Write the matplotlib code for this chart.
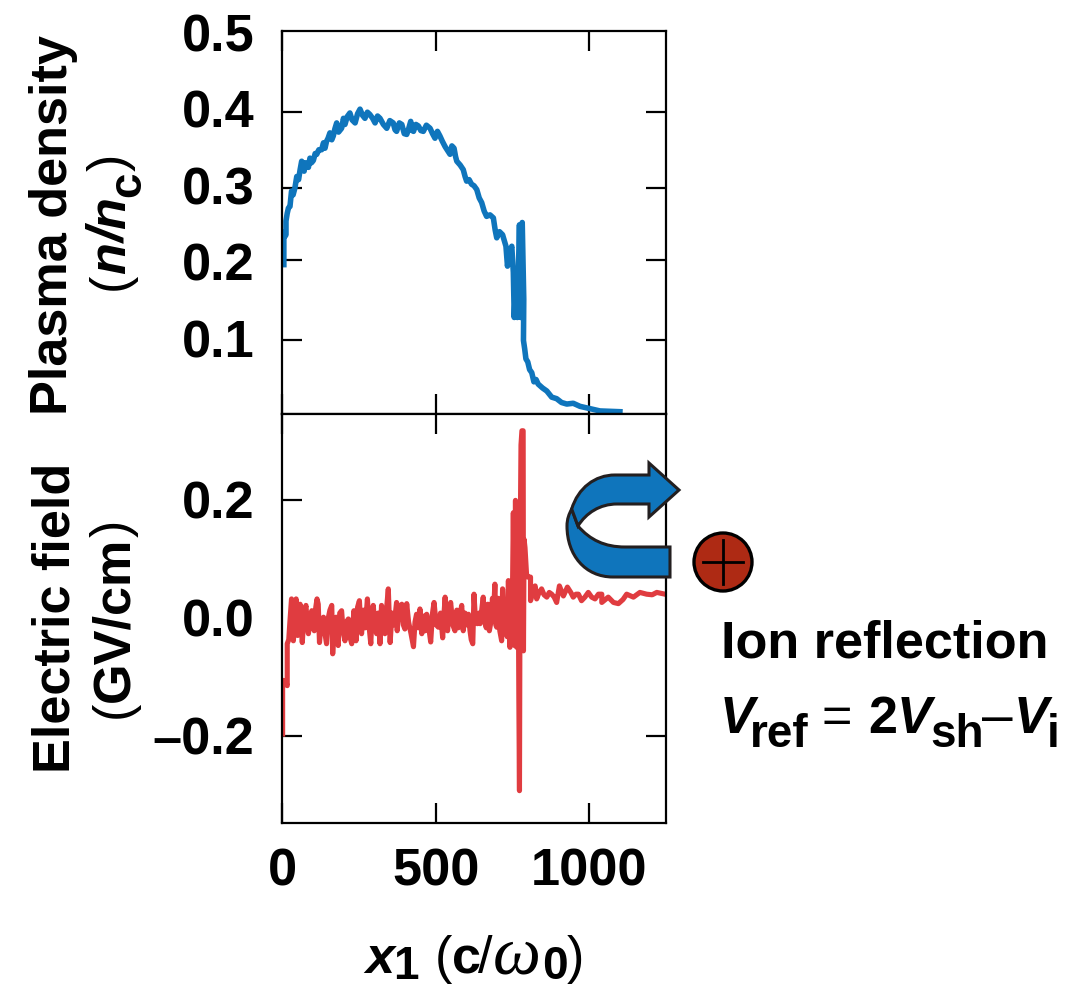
import matplotlib
matplotlib.use("Agg")
import matplotlib.pyplot as plt
from matplotlib.patches import Circle, PathPatch
from matplotlib.path import Path

plt.rcParams['font.family'] = ['Liberation Sans', 'DejaVu Sans']
plt.rcParams['font.weight'] = 'bold'

BLUE = '#0F75BC'
RED = '#E03C40'
DARK = '#231F20'
BROWN = '#AE2A14'
FS = 37.6
SUB = 33

# density profile
density_x = [6, 6, 10, 13, 13, 17, 21, 26, 31, 36,
             42, 48, 54, 59, 64, 68, 72, 76, 80, 86,
             91, 96, 102, 108, 113, 120, 129, 135, 140, 145,
             150, 156, 162, 167, 172, 178, 184, 194, 200, 205,
             212, 221, 228, 238, 246, 254, 262, 270, 278, 286,
             295, 303, 311, 319, 330, 341, 351, 362, 368, 373,
             382, 390, 398, 406, 412, 419, 424, 428, 436, 444,
             452, 460, 470, 482, 490, 498, 506, 514, 522, 531,
             539, 547, 553, 560, 565, 569, 580, 590, 596, 601,
             609, 617, 625, 634, 642, 650, 658, 666, 677, 688,
             694, 699, 708, 718, 729, 734, 740, 748, 753, 756,
             762, 766, 773, 777, 782, 787, 786, 790, 794, 800,
             806, 813, 820, 827, 834, 848, 862, 878, 894, 910,
             927, 948, 970, 1002, 1035, 1100]
density_y = [.195, .237, .232, .234, .252, .262, .269, .271, .291, .286,
             .295, .310, .306, .319, .330, .322, .317, .328, .326, .322,
             .334, .328, .331, .340, .339, .345, .345, .354, .347, .356,
             .360, .367, .358, .363, .372, .380, .368, .373, .386, .378,
             .388, .393, .384, .380, .392, .398, .390, .386, .394, .391,
             .386, .380, .389, .386, .378, .373, .383, .380, .371, .369,
             .380, .378, .366, .365, .372, .382, .370, .369, .378, .376,
             .370, .369, .377, .373, .366, .360, .369, .363, .356, .349,
             .344, .339, .350, .347, .336, .330, .325, .319, .310, .304,
             .306, .300, .298, .293, .282, .276, .265, .258, .260, .256,
             .240, .230, .238, .234, .219, .193, .210, .219, .185, .126,
             .185, .126, .247, .126, .250, .150, .096, .085, .072, .068,
             .058, .054, .042, .045, .039, .034, .030, .022, .020, .015,
             .013, .014, .010, .007, .004, .003]

# electric field
field_x = [2, 2, 10, 17, 17, 22, 26, 31, 37, 43,
           46, 51, 56, 59, 66, 72, 78, 83, 86, 92,
           97, 101, 105, 110, 114, 118, 122, 128, 135, 140,
           145, 150, 156, 162, 165, 170, 176, 180, 183, 188,
           194, 199, 205, 210, 216, 221, 227, 234, 241, 246,
           252, 256, 259, 265, 271, 278, 283, 289, 293, 297,
           303, 308, 313, 319, 324, 330, 335, 340, 346, 352,
           358, 365, 373, 375, 381, 390, 395, 400, 406, 412,
           420, 428, 433, 438, 444, 449, 455, 461, 466, 471,
           478, 484, 490, 495, 502, 509, 516, 523, 527, 531,
           535, 539, 544, 549, 556, 563, 569, 574, 580, 585,
           590, 596, 601, 607, 612, 616, 621, 625, 630, 636,
           641, 645, 650, 655, 660, 665, 670, 675, 680, 685,
           689, 693, 696, 699, 704, 709, 715, 718, 723, 729,
           733, 737, 742, 746, 750, 753, 757, 760, 764, 768,
           771, 773, 775, 778, 781, 785, 786, 788, 791, 796,
           800, 809, 809, 816, 824, 829, 837, 845, 853, 862,
           870, 878, 886, 894, 903, 916, 929, 940, 948, 957,
           965, 975, 986, 997, 1008, 1019, 1030, 1041, 1041, 1062,
           1079, 1095, 1110, 1122, 1144, 1165, 1187, 1205, 1220, 1247]
field_y = [-.200, -.109, -.110, -.118, -.047, -.040, -.008, .029, -.042, .010,
           .029, -.033, .005, .020, -.045, .005, .018, -.020, -.030, .000,
           .009, -.020, -.025, .015, .029, .020, -.045, -.010, -.002, -.030,
           -.047, -.005, .010, .018, -.064, -.015, -.002, -.030, -.050, .005,
           .009, -.025, -.042, -.010, -.005, -.035, -.047, .009, -.042, .015,
           .026, -.015, -.030, .010, -.020, .029, -.015, -.047, .000, .018,
           -.020, -.030, .005, -.047, .018, -.010, -.030, .010, .046, -.045,
           .005, -.015, .023, -.025, .015, .020, -.015, -.022, .021, -.010,
           -.030, -.052, -.010, .003, -.020, .012, -.030, .000, -.025, .003,
           -.020, -.044, .005, .023, -.015, -.019, .005, -.037, .000, .032,
           -.010, -.025, .010, .023, -.015, -.025, .010, -.020, .005, .018,
           -.025, .005, -.015, .003, -.025, -.040, -.047, .037, -.010, -.013,
           .005, -.013, .010, .032, -.010, -.020, .020, -.025, -.010, .030,
           .010, .054, -.015, -.019, .030, -.025, -.042, .046, -.020, .003,
           -.035, .060, -.053, .020, .026, .175, -.050, .196, -.053, .190,
           -.138, -.296, .100, .290, .314, .314, -.059, .130, .116, .071,
           .066, .066, .026, .040, .051, .029, .040, .046, .036, .032,
           .040, .037, .032, .023, .051, .034, .049, .040, .032, .037,
           .037, .026, .032, .040, .032, .029, .037, .037, .023, .032,
           .023, .021, .028, .037, .032, .040, .037, .036, .040, .037]

xticks = [0, 500, 1000]
xtick_labels = ['0', '500', '1000']
density_ticks = [.0964, .2005, .2956, .3945]
density_labels = [.1, .2, .3, .4, .5]
field_ticks = [-.203, 0, .197]
field_label_pos = [-.2, 0, .2]
field_labels = ['\u20130.2', '0.0', '0.2']

fig = plt.figure(figsize=(10.88, 9.87), dpi=100)


def box(l, t, r, b):
    return [l / 1088, 1 - b / 987, (r - l) / 1088, (b - t) / 987]


ax1 = fig.add_axes(box(282, 32, 666, 415))
ax2 = fig.add_axes(box(282, 415, 666, 824))

ax1.plot(density_x, density_y, color=BLUE, lw=4.0)
ax2.plot(field_x, field_y, color=RED, lw=3.7)

ax1.set_xlim(0, 1250)
ax2.set_xlim(0, 1250)
ax1.set_ylim(0, .5)
ax2.set_ylim(-.3508, .3424)

ax1.set_xticks(xticks)
ax1.set_xticklabels([])
ax1.set_yticks(density_labels)
ax1.set_yticklabels(['%.1f' % v for v in density_labels])
ax1.set_yticks(density_ticks, minor=True)
ax2.set_xticks(xticks)
ax2.set_xticklabels(xtick_labels)
ax2.set_yticks(field_label_pos)
ax2.set_yticklabels(field_labels)
ax2.set_yticks(field_ticks, minor=True)

for ax in [ax1, ax2]:
    for s in ax.spines.values():
        s.set_linewidth(1.6)
    ax.tick_params(which='both', direction='in', top=True, right=True, width=1.6,
                   labelsize=FS, pad=20)
    ax.tick_params(axis='x', length=14.5, pad=17)
    ax.tick_params(axis='y', which='major', length=0)
    ax.tick_params(axis='y', which='minor', length=14.5)

# overlay in picture pixels for the labels and the arrow sketch
over = fig.add_axes([0, 0, 1, 1], zorder=5)
over.set_xlim(0, 1088)
over.set_ylim(987, 0)
over.axis('off')
over.patch.set_alpha(0)


def piece(x, y, s, size=FS, weight='bold', style='normal', family='Liberation Sans', rot=0):
    # single run of text, anchored at its left end on the baseline
    over.text(x, y, s, fontsize=size, fontweight=weight, fontstyle=style, family=family,
              rotation=rot, rotation_mode='anchor', ha='left', va='baseline', clip_on=False)


piece(67, 415, 'Plasma density', rot=90)
piece(125, 290, '(', weight='normal', rot=90)
piece(125, 274, 'n', style='italic', rot=90)
piece(125, 243, '/', style='italic', rot=90)
piece(125, 229, 'n', style='italic', rot=90)
piece(140, 197, 'c', size=SUB, rot=90)
piece(125, 171, ')', weight='normal', rot=90)

piece(70, 773, 'Electric field', rot=90)
piece(128, 718, '(', weight='normal', rot=90)
piece(128, 702, 'GV/cm', rot=90)
piece(128, 537, ')', weight='normal', rot=90)

piece(365, 973, 'x', style='italic')
piece(393, 979, '1', size=SUB)
piece(435, 973, '(', weight='normal')
piece(452, 973, 'c')
piece(478, 973, '/', weight='normal')
piece(493, 973, '\u03c9', size=FS * 1.3, weight='normal', style='italic', family='Liberation Serif')
piece(542, 979, '0', size=SUB)
piece(567, 973, ')', weight='normal')

piece(721, 657, 'Ion reflection')
piece(720, 733, 'V', style='italic')
piece(750, 747, 'ref', size=SUB)
piece(821, 733, '=', weight='normal')
piece(868, 733, '2')
piece(897, 733, 'V', style='italic')
piece(930, 747, 'sh', size=SUB)
piece(982, 733, '\u2013', weight='normal', size=FS * 1.05)
piece(1014, 733, 'V', style='italic')
piece(1047, 747, 'i', size=SUB)

# curved arrow, two bands
M, L, C, Z = Path.MOVETO, Path.LINETO, Path.CURVE4, Path.CLOSEPOLY
lower = Path([(571.7, 510), (578, 527), (590, 541), (605, 548), (625, 548), (670, 548), (670, 578),
              (613, 578), (585, 578), (567, 556), (567, 527), (567, 520), (569, 515), (571.7, 510),
              (571.7, 510)],
             [M, L, C, C, C, L, L, L, C, C, C, C, C, C, Z])
upper = Path([(571.7, 510), (578, 489), (595, 476), (615, 476), (649, 476), (649, 464), (679, 491),
              (649, 518), (649, 505), (617, 505), (600, 505), (586, 514), (578, 527), (571.7, 510)],
             [M, C, C, C, L, L, L, L, L, L, C, C, C, Z])
for p in [lower, upper]:
    over.add_patch(PathPatch(p, facecolor=BLUE, edgecolor=DARK, lw=2.2, joinstyle='miter'))

# ion sketch
over.add_patch(Circle((723, 563), 29, facecolor=BROWN, edgecolor='black', lw=2.4))
over.plot([703, 743], [563, 563], color='black', lw=2)
over.plot([723, 723], [541, 585], color='black', lw=2)

fig.savefig('out.png', dpi=100)
